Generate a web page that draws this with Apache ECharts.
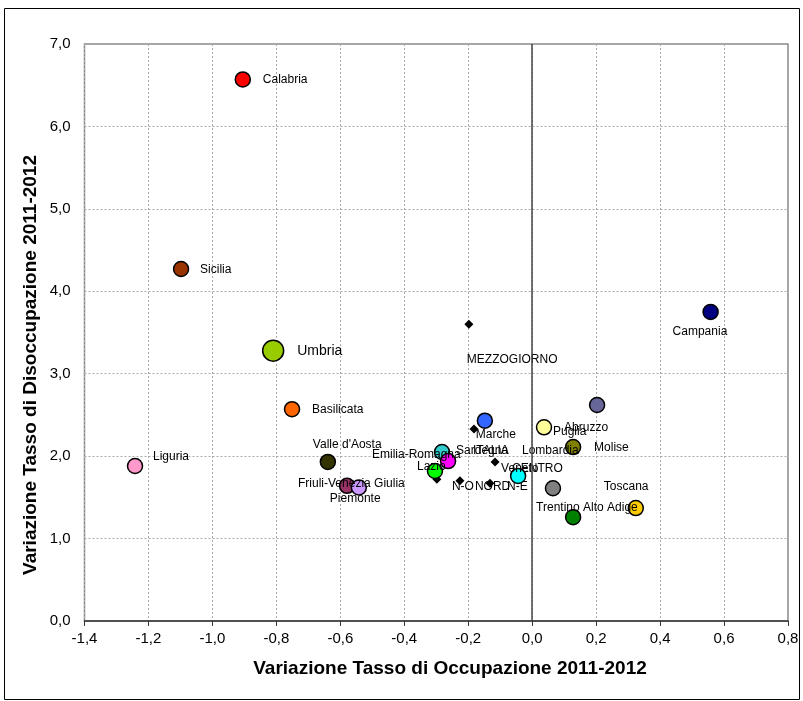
<!DOCTYPE html>
<html>
<head>
<meta charset="utf-8">
<script src="https://cdn.jsdelivr.net/npm/echarts@6/dist/echarts.min.js"></script>
<style>
html,body{margin:0;padding:0;background:#fff;}
#chart{width:803px;height:701px;}
</style>
</head>
<body>
<div id="chart"></div>
<script>
// Regions (circles)
var regionNames = ["Calabria","Sicilia","Umbria","Basilicata","Liguria","Valle d'Aosta","Friuli-Venezia Giulia","Piemonte","Emilia-Romagna","Sardegna","Lazio","Marche","Puglia","Abruzzo","Molise","Lombardia","Veneto","Trentino Alto Adige","Toscana","Campania"];
var regionOcc = [-0.905,-1.098,-0.810,-0.751,-1.242,-0.639,-0.579,-0.542,-0.282,-0.263,-0.304,-0.148,0.037,0.203,0.128,0.065,-0.044,0.128,0.324,0.558];
var regionDis = [6.57,4.27,3.28,2.57,1.88,1.93,1.64,1.62,2.05,1.94,1.82,2.43,2.35,2.62,2.11,1.61,1.76,1.26,1.37,3.75];
// Aggregates (diamonds)
var areaNames = ["ITALIA","CENTRO","N-O","NORD","N-E","MEZZOGIORNO"];
var areaOcc = [-0.182,-0.116,-0.298,-0.226,-0.132,-0.198];
var areaDis = [2.33,1.93,1.72,1.70,1.67,3.60];

// Styles (not data)
var regionColors = ["#FF0000","#993300","#99CC00","#FF6600","#FF99CC","#333300","#993366","#CC99FF","#33CCCC","#FF00FF","#00FF00","#3366FF","#FFFF99","#666699","#808000","#808080","#00FFFF","#008000","#FFCC00","#000080"];
var labelOffsets = {
  "Calabria":[20,0],"Sicilia":[19,1],"Umbria":[24,1],"Basilicata":[20,1],"Liguria":[18,-9],
  "Valle d'Aosta":[-15,-17],"Friuli-Venezia Giulia":[-49,-2],"Piemonte":[-29,11],
  "Emilia-Romagna":[-70,3],"Sardegna":[8,-10],"Lazio":[-18,-4],"Marche":[-9,14],
  "Puglia":[9,4],"Abruzzo":[-33,23],"Molise":[21,1],"Lombardia":[-31,-38],"Veneto":[-17,-7],
  "Trentino Alto Adige":[-37,-9],"Toscana":[-32,-21],"Campania":[-38,20],
  "ITALIA":[-1,22],"CENTRO":[17,7],"N-O":[15,7],"NORD":[15,6],"N-E":[17,3],"MEZZOGIORNO":[-2,35]
};

var fontFam = "'Liberation Sans', Arial, sans-serif";
function fmt(v){ return v.toFixed(1).replace('.', ','); }

var regionData = regionNames.map(function(n,i){
  var big = (n === "Umbria");
  return {
    name: n,
    value: [regionOcc[i], regionDis[i]],
    symbolSize: big ? 21 : 15,
    itemStyle: {color: regionColors[i], borderColor:'#000', borderWidth:1.5, opacity:1},
    label: {show:true, formatter:n, position:'inside', align:'left', verticalAlign:'middle',
            offset: labelOffsets[n], fontSize: big ? 14 : 12, color:'#000', fontFamily: fontFam}
  };
});
var areaData = areaNames.map(function(n,i){
  return {
    name: n,
    value: [areaOcc[i], areaDis[i]],
    label: {show:true, formatter:n, position:'inside', align:'left', verticalAlign:'middle',
            offset: labelOffsets[n], fontSize:12, color:'#000', fontFamily: fontFam}
  };
});

var chart = echarts.init(document.getElementById('chart'), null, {renderer:'canvas'});
chart.setOption({
  animation:false,
  backgroundColor:'#fff',
  grid:{left:84.5, right:15, top:44, bottom:80, show:true, borderColor:'#888', borderWidth:1.5, containLabel:false},
  xAxis:{
    type:'value', min:-1.4, max:0.8, interval:0.2,
    axisLine:{show:true, onZero:false, lineStyle:{color:'#333', width:1.5}},
    axisTick:{show:true, inside:false, length:5, lineStyle:{color:'#333'}},
    axisLabel:{formatter:fmt, fontSize:15, color:'#000', fontFamily:fontFam, margin:10},
    splitLine:{show:true, lineStyle:{color:'#aaa', type:[2,2], width:1}}
  },
  yAxis:{
    type:'value', min:0, max:7, interval:1,
    axisLine:{show:false},
    axisTick:{show:false},
    axisLabel:{formatter:fmt, fontSize:15, color:'#000', fontFamily:fontFam, margin:14},
    splitLine:{show:true, lineStyle:{color:'#aaa', type:[2,2], width:1}}
  },
  graphic:[
    {type:'rect', silent:true, shape:{x:4.5, y:8.5, width:795, height:691}, style:{fill:'none', stroke:'#000', lineWidth:1}},
    {type:'text', silent:true, x:450, y:669, style:{text:'Variazione Tasso di Occupazione 2011-2012', font:'bold 19px '+fontFam, fill:'#000', textAlign:'center', textVerticalAlign:'middle'}},
    {type:'text', silent:true, x:31, y:365, rotation:Math.PI/2, style:{text:'Variazione Tasso di Disoccupazione 2011-2012', font:'bold 19px '+fontFam, fill:'#000', textAlign:'center', textVerticalAlign:'middle'}}
  ],
  series:[
    {
      type:'scatter', name:'aree', symbol:'diamond', symbolSize:9,
      itemStyle:{color:'#000', opacity:1},
      data: areaData, z:3,
      markLine:{silent:true, symbol:'none', label:{show:false},
        lineStyle:{color:'#444', width:1.5, type:'solid'},
        data:[{xAxis:0}]}
    },
    {
      type:'scatter', name:'regioni', data: regionData, z:4
    }
  ]
});
</script>
</body>
</html>
